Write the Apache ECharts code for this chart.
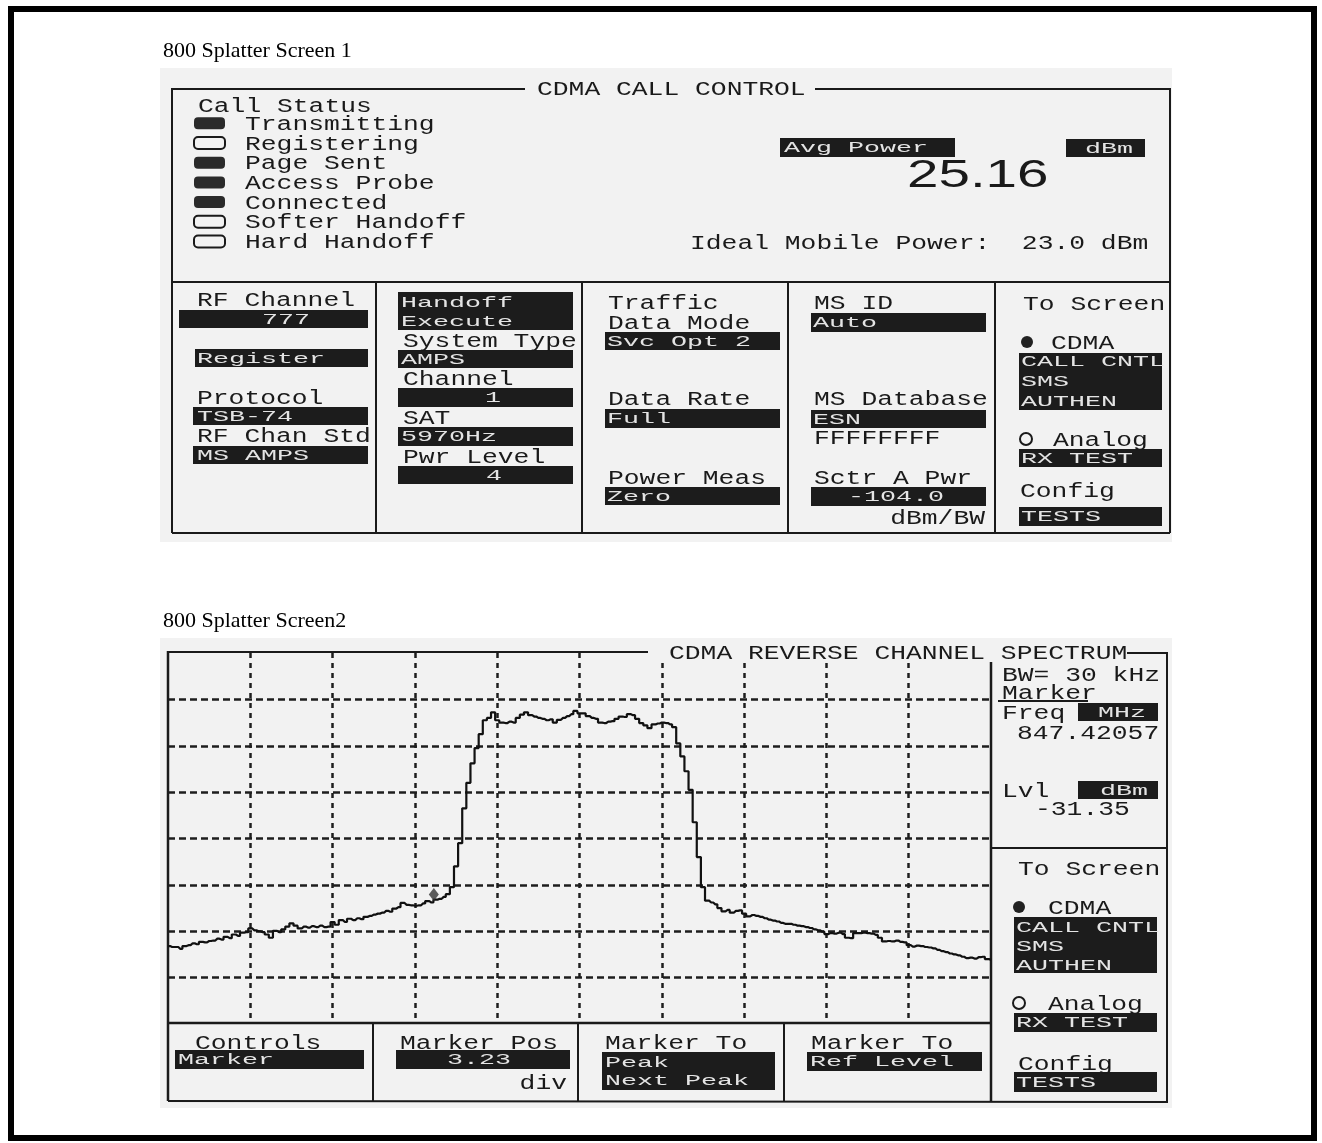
<!DOCTYPE html>
<html>
<head>
<meta charset="utf-8">
<title>800 Splatter Screens</title>
<script src="https://cdn.jsdelivr.net/npm/echarts@6/dist/echarts.min.js"></script>
<style>
html, body { margin: 0; padding: 0; background: #fff; }
#chart { width: 1322px; height: 1143px; }
</style>
</head>
<body>
<div id="chart"></div>
<script>
// spectrum trace: level in divisions above the bottom graticule line, one sample every 0.05 div
var traceStep = 0.05;
var traceLevel = [
  1.68,1.66,1.66,1.62,1.68,1.70,1.74,1.72,1.77,1.76,1.79,1.80,1.84,1.82,1.88,1.85,1.93,1.90,1.97,1.98,
  2.06,2.02,2.00,1.98,1.93,1.86,2.01,1.98,2.04,2.10,2.17,2.12,2.06,2.10,2.08,2.11,2.09,2.12,2.09,2.10,
  2.20,2.14,2.24,2.20,2.27,2.24,2.28,2.26,2.31,2.33,2.36,2.38,2.40,2.44,2.42,2.49,2.52,2.61,2.57,2.56,
  2.55,2.56,2.60,2.65,2.62,2.68,2.70,2.74,2.80,2.95,3.40,3.90,4.65,5.20,5.62,5.95,6.25,6.55,6.60,6.72,
  6.55,6.50,6.49,6.52,6.50,6.60,6.67,6.72,6.66,6.63,6.60,6.58,6.55,6.57,6.50,6.56,6.60,6.64,6.68,6.75,
  6.70,6.70,6.64,6.60,6.58,6.50,6.49,6.52,6.53,6.58,6.63,6.62,6.68,6.66,6.58,6.49,6.44,6.38,6.46,6.48,
  6.50,6.49,6.46,6.40,6.05,5.77,5.45,5.05,4.35,3.60,2.95,2.66,2.62,2.58,2.50,2.43,2.46,2.40,2.44,2.45,
  2.38,2.32,2.35,2.33,2.31,2.28,2.25,2.23,2.21,2.18,2.16,2.16,2.14,2.12,2.11,2.09,2.07,2.04,2.02,1.99,
  1.94,1.96,1.95,1.97,1.94,1.86,1.85,1.96,1.96,1.97,1.96,1.95,1.92,1.86,1.78,1.79,1.78,1.80,1.77,1.76,
  1.70,1.67,1.69,1.68,1.66,1.65,1.63,1.60,1.57,1.55,1.52,1.50,1.48,1.45,1.42,1.43,1.41,1.44,1.45,1.40,
  1.38
];
var markerPos = 3.23;     // div
var markerLevel = 2.79;   // div
var xDivs = 10;
var yDivs = 8;

var statusLabels = ['Transmitting', 'Registering', 'Page Sent', 'Access Probe', 'Connected', 'Softer Handoff', 'Hard Handoff'];
var statusOn = [1, 0, 1, 1, 1, 0, 0];

var MONO = '"Liberation Mono", "DejaVu Sans Mono", monospace';
var INK = '#1a1a1a';
var PAPER = '#f2f2f2';

var els = [];

function txt(x, y, s, opt) {
  opt = opt || {};
  var size = opt.size || 19.5, pitch = opt.pitch || 15.8, adv = opt.adv || 0.6;
  els.push({
    type: 'text', x: x, y: y + (opt.dy === undefined ? 1.5 : opt.dy), z: 30, scaleX: pitch / (adv * size),
    style: {
      text: s, fontSize: size, fontFamily: opt.family || MONO,
      fill: opt.color || INK,
      align: opt.align || 'left', textAlign: opt.align || 'left',
      verticalAlign: 'middle', textVerticalAlign: 'middle'
    }
  });
}
function inv(x, y, s, align) {
  txt(x, y, s, { size: 15.5, pitch: 16, color: '#e4e4e4', align: align, dy: 0.8 });
}
function bar(x1, y1, x2, y2) {
  els.push({ type: 'rect', z: 20, shape: { x: x1, y: y1, width: x2 - x1, height: y2 - y1 }, style: { fill: '#1c1c1c' } });
}
function ln(x1, y1, x2, y2, w) {
  els.push({ type: 'line', z: 25, shape: { x1: x1, y1: y1, x2: x2, y2: y2 }, style: { stroke: INK, lineWidth: w || 2 } });
}
function dot(cx, cy, filled) {
  els.push({ type: 'circle', z: 25, shape: { cx: cx, cy: cy, r: 6 },
    style: filled ? { fill: '#222' } : { fill: 'none', stroke: INK, lineWidth: 2 } });
}

// page frame and scan backgrounds
els.push({ type: 'rect', z: 1, shape: { x: 11, y: 9, width: 1303, height: 1129 }, style: { fill: 'none', stroke: '#000', lineWidth: 6 } });
els.push({ type: 'rect', z: 1, shape: { x: 160, y: 68, width: 1012, height: 474 }, style: { fill: PAPER } });
els.push({ type: 'rect', z: 1, shape: { x: 160, y: 638, width: 1012, height: 470 }, style: { fill: PAPER } });

txt(163, 51, '800 Splatter Screen 1', { family: '"Liberation Serif", serif', size: 22, pitch: 1, adv: 1 / 22, color: '#000', dy: 0 });
txt(163, 621, '800 Splatter Screen2', { family: '"Liberation Serif", serif', size: 22, pitch: 1, adv: 1 / 22, color: '#000', dy: 0 });

// ---- screen 1: CDMA call control ----
ln(172, 89, 525, 89); ln(815, 89, 1170, 89);
ln(172, 88, 172, 533); ln(1170, 88, 1170, 533);
ln(172, 533, 1170, 533); ln(172, 282, 1170, 282);
[376, 582, 788, 995].forEach(function (x) { ln(x, 282, x, 533); });
txt(537, 88, 'CDMA CALL CONTROL');

txt(198, 105, 'Call Status');
statusLabels.forEach(function (s, i) {
  var y = 123.3 + i * 19.7;
  els.push({ type: 'rect', z: 25, shape: { x: 194, y: y - 6, width: 31, height: 12, r: 4 },
    style: statusOn[i] ? { fill: '#2a2a2a' } : { fill: 'none', stroke: INK, lineWidth: 2 } });
  txt(245, y, s);
});

bar(780, 138, 955, 157); inv(784, 147.5, 'Avg Power');
bar(1066, 139, 1145, 157); inv(1085, 148, 'dBm');
txt(907, 176, '25.16', { family: '"Liberation Sans", sans-serif', size: 39, pitch: 1.45, adv: 1 / 39, dy: 0 });
txt(690, 242, 'Ideal Mobile Power:  23.0 dBm');

txt(197, 299, 'RF Channel');
bar(179, 310, 368, 328); inv(262, 319, '777');
bar(195, 349, 368, 367); inv(197, 358, 'Register');
txt(197, 397, 'Protocol');
bar(193, 407, 368, 425); inv(197, 416, 'TSB-74');
txt(197, 435, 'RF Chan Std');
bar(193, 446, 368, 464); inv(197, 455, 'MS AMPS');

bar(398, 292, 573, 330); inv(401, 302, 'Handoff'); inv(401, 321, 'Execute');
txt(403, 340, 'System Type');
bar(398, 350, 573, 368); inv(401, 359, 'AMPS');
txt(403, 378, 'Channel');
bar(398, 388, 573, 407); inv(485, 397.5, '1');
txt(403, 417, 'SAT');
bar(398, 427, 573, 446); inv(401, 436.5, '5970Hz');
txt(403, 456, 'Pwr Level');
bar(398, 466, 573, 484); inv(486, 475, '4');

txt(608, 302, 'Traffic');
txt(608, 322, 'Data Mode');
bar(605, 332, 780, 350); inv(607, 341, 'Svc Opt 2');
txt(608, 398, 'Data Rate');
bar(605, 409, 780, 428); inv(607, 418.5, 'Full');
txt(608, 477, 'Power Meas');
bar(605, 487, 780, 505); inv(607, 496, 'Zero');

txt(814, 302, 'MS ID');
bar(811, 313, 986, 332); inv(813, 322.5, 'Auto');
txt(814, 398, 'MS Database');
bar(811, 410, 986, 428); inv(813, 419, 'ESN');
txt(814, 437, 'FFFFFFFF');
txt(814, 477, 'Sctr A Pwr');
bar(811, 487, 986, 506); inv(848, 496.5, '-104.0');
txt(985, 517, 'dBm/BW', { align: 'right' });

txt(1023, 303, 'To Screen');
dot(1027, 342, true); txt(1051, 342, 'CDMA');
bar(1019, 353, 1162, 410); inv(1021, 361, 'CALL CNTL'); inv(1021, 381, 'SMS'); inv(1021, 401, 'AUTHEN');
dot(1026, 439, false); txt(1053, 439, 'Analog');
bar(1019, 449, 1162, 467); inv(1021, 458, 'RX TEST');
txt(1020, 490, 'Config');
bar(1019, 507, 1162, 526); inv(1021, 516.5, 'TESTS');

// ---- screen 2: reverse channel spectrum ----
// paper behind the title so the graticule does not run through it
els.push({ type: 'rect', z: 22, shape: { x: 650, y: 641, width: 476, height: 20 }, style: { fill: PAPER } });
ln(168, 652, 648, 652); ln(1127, 653, 1167, 653);
ln(168, 651, 168, 1101, 2.5); ln(1167, 652, 1167, 1103);
ln(991, 662, 991, 1102, 2.5); ln(168, 1023, 991, 1023, 2.5);
ln(168, 1101, 1167, 1102); ln(991, 848, 1167, 848);
[373, 578, 784].forEach(function (x) { ln(x, 1023, x, 1101); });
txt(669, 652, 'CDMA REVERSE CHANNEL SPECTRUM');

txt(1002, 674, 'BW= 30 kHz');
txt(1002, 692, 'Marker'); ln(998, 701, 1088, 701);
txt(1002, 712, 'Freq');
bar(1078, 703, 1158, 721); inv(1098, 712, 'MHz');
txt(1017, 732, '847.42057');
txt(1002, 790, 'Lvl');
bar(1078, 781, 1158, 799); inv(1100, 790, 'dBm');
txt(1035, 808, '-31.35');
txt(1018, 868, 'To Screen');
dot(1019, 907, true); txt(1048, 907, 'CDMA');
bar(1014, 917, 1157, 973); inv(1016, 927, 'CALL CNTL'); inv(1016, 946, 'SMS'); inv(1016, 965, 'AUTHEN');
dot(1019, 1003, false); txt(1048, 1003, 'Analog');
bar(1014, 1013, 1157, 1032); inv(1016, 1022.5, 'RX TEST');
txt(1018, 1063, 'Config');
bar(1014, 1072, 1157, 1092); inv(1016, 1082, 'TESTS');

txt(195, 1042, 'Controls');
bar(175, 1050, 364, 1069); inv(178, 1059.5, 'Marker');
txt(400, 1042, 'Marker Pos');
bar(396, 1050, 570, 1069); inv(447, 1059.5, '3.23');
txt(567, 1082, 'div', { align: 'right' });
txt(605, 1042, 'Marker To');
bar(602, 1052, 775, 1090); inv(605, 1062, 'Peak'); inv(605, 1080, 'Next Peak');
txt(811, 1042, 'Marker To');
bar(807, 1052, 982, 1071); inv(810, 1061.5, 'Ref Level');

var tracePoints = traceLevel.map(function (v, i) { return [i * traceStep, v]; });

var chart = echarts.init(document.getElementById('chart'));
chart.setOption({
  animation: false,
  backgroundColor: '#fff',
  grid: { left: 168, top: 653, width: 823, height: 371, show: false },
  xAxis: {
    type: 'value', min: 0, max: xDivs, interval: 1, z: 5,
    axisLine: { show: false }, axisTick: { show: false }, axisLabel: { show: false },
    splitLine: { show: true, showMinLine: false, showMaxLine: false,
      lineStyle: { color: '#1e1e1e', width: 2.5, type: [5, 5] } }
  },
  yAxis: {
    type: 'value', min: 0, max: yDivs, interval: 1, z: 5,
    axisLine: { show: false }, axisTick: { show: false }, axisLabel: { show: false },
    splitLine: { show: true, showMinLine: false, showMaxLine: false,
      lineStyle: { color: '#1e1e1e', width: 2.5, type: [7, 4] } }
  },
  series: [
    {
      type: 'line', data: tracePoints, step: 'middle', showSymbol: false, z: 40,
      lineStyle: { color: '#111', width: 2.2 }
    },
    {
      type: 'scatter', data: [[markerPos, markerLevel]], symbol: 'diamond', symbolSize: [10, 13], z: 41,
      itemStyle: { color: '#333' }
    }
  ],
  graphic: { elements: els }
});
</script>
</body>
</html>
